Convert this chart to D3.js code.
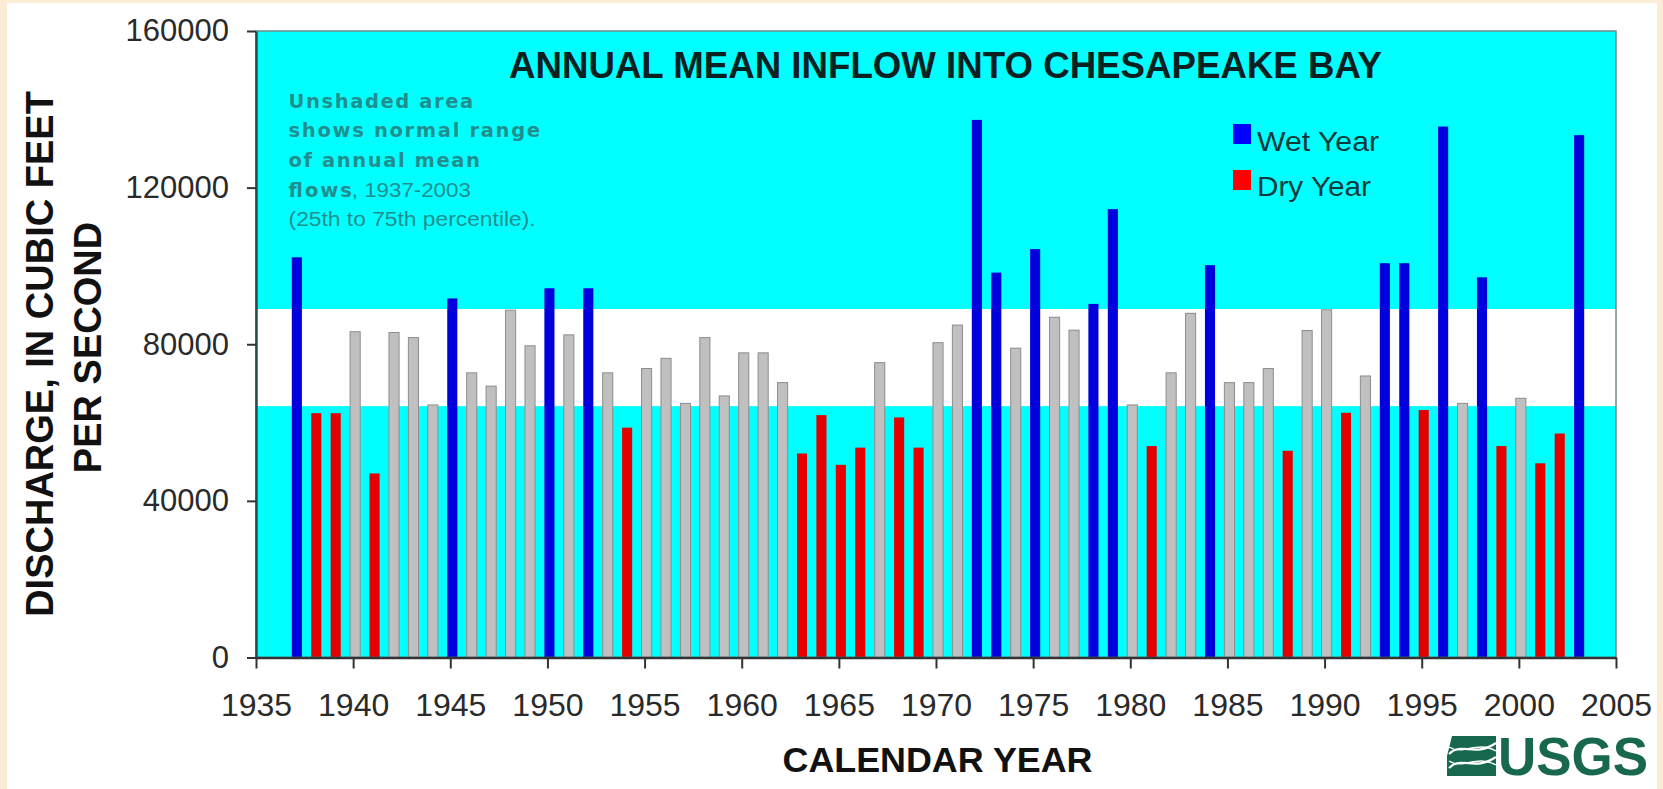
<!DOCTYPE html>
<html><head><meta charset="utf-8">
<script src="https://cdn.jsdelivr.net/npm/d3@7/dist/d3.min.js"></script>
<style>html,body{margin:0;padding:0;background:#fbecd5;overflow:hidden}svg{display:block}</style>
</head><body>
<svg id="chart" width="1663" height="789"></svg>
<script>
// ---- data ----
const years = [1937,1938,1939,1940,1941,1942,1943,1944,1945,1946,1947,1948,1949,1950,
  1951,1952,1953,1954,1955,1956,1957,1958,1959,1960,1961,1962,1963,1964,1965,1966,1967,1968,1969,1970,
  1971,1972,1973,1974,1975,1976,1977,1978,1979,1980,1981,1982,1983,1984,1985,1986,1987,1988,1989,1990,
  1991,1992,1993,1994,1995,1996,1997,1998,1999,2000,2001,2002,2003];
const flows = [102200,62400,62400,83200,47000,83000,81700,64500,91700,72700,69300,88700,79600,94300,
  82400,94300,72700,58700,73800,76400,64900,81700,66800,77800,77800,70200,52100,61900,49200,53600,75300,61300,53600,80400,
  84900,137300,98300,79000,104300,86900,83600,90300,114500,64500,54000,72700,87900,100200,70200,70200,73800,52800,83500,88800,
  62500,71900,100700,100700,63200,135600,64900,97100,54000,66200,49600,57200,133400];
const normalRange = [64200, 89000];           // 25th and 75th percentile
const yTickValues = [0, 40000, 80000, 120000, 160000];
const xTickValues = [1935,1940,1945,1950,1955,1960,1965,1970,1975,1980,1985,1990,1995,2000,2005];
const seriesNames = ["Wet Year", "Dry Year"];
const seriesColors = ["#0000dc", "#e40000"];
const legendColors = ["#0000ff", "#ff0000"];
const normalColor = "#c0c0c0";
const titleText = "ANNUAL MEAN INFLOW INTO CHESAPEAKE BAY";
const noteBold = ["Unshaded area", "shows normal range", "of annual mean", "flows"];
const noteRest = [", 1937-2003", "(25th to 75th percentile)."];
const yTitle = ["DISCHARGE, IN CUBIC FEET", "PER SECOND"];
const xTitle = "CALENDAR YEAR";

// ---- layout ----
const svg = d3.select("#chart");
svg.append("rect").attr("width",1663).attr("height",789).attr("fill","#fbecd5");
svg.append("rect").attr("x",7).attr("y",3).attr("width",1650).attr("height",790).attr("fill","#ffffff");

const P = {left:256, right:1616, top:31, bottom:657.5};
const x = d3.scaleLinear().domain([xTickValues[0], xTickValues[xTickValues.length-1]]).range([P.left, P.right]);
const y = d3.scaleLinear().domain([yTickValues[0], yTickValues[yTickValues.length-1]]).range([P.bottom, P.top]);

// background bands
svg.append("rect").attr("x",P.left).attr("y",P.top).attr("width",P.right-P.left).attr("height",P.bottom-P.top).attr("fill","#00ffff");
svg.append("rect").attr("x",P.left).attr("y",y(normalRange[1])).attr("width",P.right-P.left)
  .attr("height",y(normalRange[0])-y(normalRange[1])).attr("fill","#ffffff");

// bars
const step = x(xTickValues[0]+1) - x(xTickValues[0]);
const bw = step*0.52;
const data = years.map((yr,i)=>({year:yr, v:flows[i],
  kind: flows[i] > normalRange[1] ? 0 : (flows[i] < normalRange[0] ? 1 : 2)}));
svg.append("g").selectAll("rect").data(data).join("rect")
  .attr("x", d => x(d.year) - bw/2 + 2)
  .attr("y", d => y(d.v))
  .attr("width", bw)
  .attr("height", d => y(0) - y(d.v))
  .attr("fill", d => d.kind===2 ? normalColor : seriesColors[d.kind])
  .attr("stroke", d => d.kind===2 ? "#8c8c8c" : "none")
  .attr("stroke-width", 1);

// plot frame (top/right)
svg.append("rect").attr("x",P.left).attr("y",P.top).attr("width",P.right-P.left).attr("height",P.bottom-P.top)
  .attr("fill","none").attr("stroke","#6f8c8c").attr("stroke-width",1.5);

// axes
const yAxis = d3.axisLeft(y).tickValues(yTickValues).tickFormat(d3.format("d")).tickSize(9).tickSizeOuter(0).tickPadding(18);
const gy = svg.append("g").attr("transform",`translate(${P.left},0)`).call(yAxis);
gy.select(".domain").attr("stroke","#2f4a4a").attr("stroke-width",2.5);
gy.selectAll(".tick line").attr("stroke","#333").attr("stroke-width",2);
gy.selectAll(".tick text").attr("font-family","'Liberation Sans', Arial, sans-serif").attr("font-size",31).attr("fill","#2a2a2a");

const xAxis = d3.axisBottom(x).tickValues(xTickValues).tickFormat(d3.format("d")).tickSize(11).tickSizeOuter(0).tickPadding(24.5);
const gx = svg.append("g").attr("transform",`translate(0,${P.bottom})`).call(xAxis);
gx.select(".domain").attr("stroke","#333").attr("stroke-width",2.5);
gx.selectAll(".tick line").attr("stroke","#333").attr("stroke-width",2);
gx.selectAll(".tick text").attr("font-family","'Liberation Sans', Arial, sans-serif").attr("font-size",32).attr("fill","#2a2a2a");

// title
svg.append("text").attr("x",945.5).attr("y",78).attr("text-anchor","middle")
  .attr("font-family","'Liberation Sans', Arial, sans-serif").attr("font-weight","bold").attr("font-size",36.5)
  .attr("textLength",873).attr("lengthAdjust","spacingAndGlyphs")
  .attr("fill","#0b2020").text(titleText);

// note
const noteColor = "#218e8e";
const noteX = 288.6, noteBase = 107.5, noteGap = 29.7;
const boldLens = [184.6, 251.4, 191.4, 63.2];
noteBold.forEach((t,i)=>{
  svg.append("text").attr("x",noteX).attr("y",noteBase+i*noteGap)
    .attr("font-family","'DejaVu Sans', Verdana, sans-serif").attr("font-weight","bold").attr("font-size",19.5)
    .attr("textLength",boldLens[i]).attr("fill",noteColor).text(t);
});
svg.append("text").attr("x",351.8).attr("y",noteBase+3*noteGap)
  .attr("font-family","'Liberation Sans', Arial, sans-serif").attr("font-size",20)
  .attr("textLength",119).attr("lengthAdjust","spacingAndGlyphs").attr("fill",noteColor).text(noteRest[0]);
svg.append("text").attr("x",noteX).attr("y",noteBase+4*noteGap)
  .attr("font-family","'Liberation Sans', Arial, sans-serif").attr("font-size",20)
  .attr("textLength",247).attr("lengthAdjust","spacingAndGlyphs").attr("fill",noteColor).text(noteRest[1]);

// legend
const leg = svg.append("g");
seriesNames.forEach((n,i)=>{
  leg.append("rect").attr("x",1233).attr("y",124+i*46).attr("width",18).attr("height",20).attr("fill",legendColors[i]);
  leg.append("text").attr("x",1257).attr("y",151+i*44.5)
    .attr("font-family","'Liberation Sans', Arial, sans-serif").attr("font-size",28)
    .attr("textLength", i===0?122:114).attr("lengthAdjust","spacingAndGlyphs")
    .attr("fill","#0c3a3a").text(n);
});

// axis titles
const yt = [{x:53, c:354}, {x:101, c:347.5}];
yTitle.forEach((t,i)=>{
  svg.append("text").attr("transform",`translate(${yt[i].x},${yt[i].c}) rotate(-90)`).attr("text-anchor","middle")
    .attr("font-family","'Liberation Sans', Arial, sans-serif").attr("font-weight","bold").attr("font-size",38)
    .attr("fill","#111").text(t);
});
svg.append("text").attr("x",937.5).attr("y",771.5).attr("text-anchor","middle")
  .attr("font-family","'Liberation Sans', Arial, sans-serif").attr("font-weight","bold").attr("font-size",35)
  .attr("textLength",310).attr("lengthAdjust","spacingAndGlyphs")
  .attr("fill","#111").text(xTitle);

// USGS logo
const logoGreen = "#17684f";
const lg = svg.append("g");
lg.append("path").attr("d","M1452,736 L1496,736 L1496,776 L1447,776 L1447,756 Z").attr("fill",logoGreen);
[747,761].forEach((yy)=>{
  lg.append("path").attr("d",`M1449,${yy+7} C1462,${yy-6} 1474,${yy+11} 1496,${yy-4}`)
    .attr("fill","none").attr("stroke","#ffffff").attr("stroke-width",2.2);
  lg.append("path").attr("d",`M1449,${yy} C1464,${yy+9} 1476,${yy-7} 1496,${yy+4}`)
    .attr("fill","none").attr("stroke","#ffffff").attr("stroke-width",1.4);
});
lg.append("text").attr("x",1498).attr("y",775)
  .attr("font-family","'Liberation Sans', Arial, sans-serif").attr("font-weight","bold").attr("font-size",54)
  .attr("textLength",150).attr("lengthAdjust","spacingAndGlyphs").attr("fill",logoGreen).text("USGS");
</script>
</body></html>
